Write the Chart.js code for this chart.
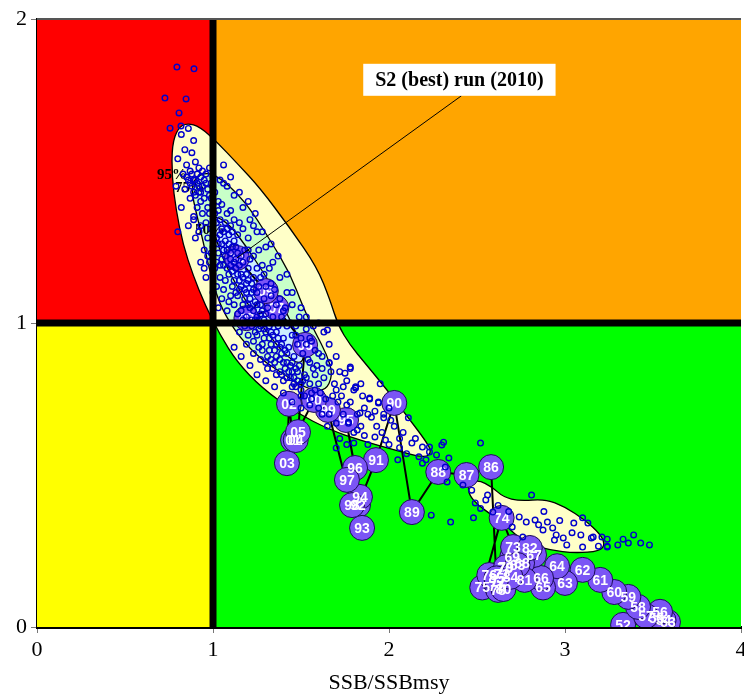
<!DOCTYPE html>
<html>
<head>
<meta charset="utf-8">
<script src="https://cdn.jsdelivr.net/npm/chart.js@4.4.1/dist/chart.umd.min.js"></script>
<style>
  html, body { margin: 0; padding: 0; background: #fff; }
  #wrap { width: 744px; height: 696px; }
</style>
</head>
<body>
<div id="wrap"><canvas id="kobe" width="744" height="696"></canvas></div>
<script>
// Kobe plot: SSB/SSBmsy (x) against F/Fmsy (y), one point per year of the S2 run

var years = ['52','53','54','55','56','57','58','59','60','61','62','63','64','65','66','67','68','69',
  '70','71','72','73','74','75','76','77','78','79','80','81','82','83','84','85','86','87','88','89',
  '90','91','92','93','94','95','96','97','98','99','00','01','02','03','04','05','06','07','08','09','10'];
var ssbRatio = [3.33, 3.585, 3.56, 3.52, 3.54, 3.46, 3.415, 3.36, 3.28, 3.20, 3.10, 3.00, 2.955, 2.875, 2.864, 2.824, 2.756, 2.70,
  2.66, 2.64, 2.62, 2.705, 2.64, 2.53, 2.57, 2.61, 2.62, 2.665, 2.65, 2.77, 2.80, 2.73, 2.69, 2.61, 2.58, 2.44, 2.28, 2.13,
  2.03, 1.926, 1.824, 1.847, 1.835, 1.756, 1.807, 1.761, 1.79, 1.653, 1.574, 1.455, 1.432, 1.42, 1.47, 1.483, 1.523, 1.36, 1.19, 1.30, 1.136];
var fRatio = [0.007, 0.016, 0.022, 0.03, 0.05, 0.036, 0.066, 0.099, 0.115, 0.155, 0.188, 0.145, 0.20, 0.13, 0.161, 0.237, 0.21, 0.23,
  0.194, 0.175, 0.15, 0.263, 0.359, 0.13, 0.171, 0.135, 0.122, 0.197, 0.125, 0.155, 0.26, 0.204, 0.165, 0.16, 0.526, 0.50, 0.51, 0.378,
  0.737, 0.549, 0.401, 0.326, 0.428, 0.681, 0.523, 0.484, 0.401, 0.714, 0.747, 0.615, 0.734, 0.539, 0.615, 0.641, 0.928, 1.05, 1.016, 1.105, 1.214];

// bootstrap estimates for the final year [SSB/SSBmsy, F/Fmsy]
var bootstrap = [
  [0.795,1.842],[0.892,1.836],[0.727,1.740],[0.847,1.737],[0.807,1.691],[0.756,1.641],[0.818,1.648],
  [0.82,1.62],[0.86,1.64],[0.89,1.60],[0.84,1.57],[0.88,1.56],[0.80,1.54],[0.85,1.52],[0.90,1.53],[0.87,1.50],
  [0.83,1.49],[0.91,1.49],[0.86,1.47],[0.89,1.47],[0.93,1.48],[0.88,1.45],[0.91,1.46],[0.94,1.45],[0.89,1.43],
  [0.92,1.43],[0.96,1.49],[0.98,1.51],[0.84,1.44],[0.87,1.41],[0.91,1.38],[0.89,1.35],[0.86,1.32],[0.93,1.32],
  [0.90,1.28],[0.93,1.20],[0.96,1.15],[1.00,1.10],[1.03,1.05],[0.82,1.38],[0.79,1.45],
  [0.92,1.45],[0.95,1.47],[0.90,1.42],[0.97,1.44],[0.93,1.40],[0.99,1.41],[0.94,1.36],[0.96,1.33],[0.92,1.30],
  [0.97,1.28],[0.95,1.24],[0.98,1.20],[1.00,1.16],[1.02,1.12],[1.05,1.08],[1.08,1.04],[1.12,1.00],[1.15,0.97],
  [1.19,0.93],[1.23,0.90],[1.27,0.88],[1.31,0.85],[1.36,0.83],[1.40,0.81],[1.45,0.79],[1.50,0.76],[1.56,0.77],
  [1.60,0.80],[1.62,0.85],[1.60,0.90],[1.56,0.94],[1.53,0.98],[1.49,1.02],[1.45,1.06],[1.42,1.10],[1.38,1.15],
  [1.34,1.20],[1.30,1.25],[1.25,1.30],[1.21,1.34],[1.17,1.38],[1.12,1.42],[1.08,1.45],[1.04,1.47],[1.00,1.48],
  [1.10,1.37],[1.15,1.33],[1.20,1.28],[1.28,1.19],[1.33,1.13],[1.40,1.04],[1.47,0.96],[1.55,0.87],[1.58,0.83],
  [1.01,1.36],[1.04,1.34],[0.99,1.31],[1.06,1.30],[1.02,1.28],[1.09,1.29],[1.05,1.26],[1.12,1.27],[1.08,1.24],
  [1.03,1.23],[1.14,1.23],[1.10,1.21],[1.06,1.19],[1.17,1.20],[1.13,1.18],[1.09,1.16],[1.19,1.16],[1.15,1.14],
  [1.11,1.12],[1.22,1.13],[1.18,1.11],[1.14,1.09],[1.25,1.10],[1.21,1.08],[1.17,1.06],[1.27,1.06],[1.23,1.04],
  [1.19,1.02],[1.30,1.03],[1.26,1.01],[1.22,0.99],[1.33,1.00],[1.29,0.98],[1.25,0.96],[1.36,0.97],[1.32,0.95],
  [1.28,0.93],[1.39,0.93],[1.35,0.91],[1.31,0.89],[1.42,0.90],[1.38,0.88],[1.45,0.87],[1.41,0.85],[1.48,0.84],
  [1.44,0.82],[1.51,0.81],[1.47,0.79],
  [1.03,1.37],[1.00,1.33],[1.07,1.33],[1.04,1.29],[1.11,1.30],[1.07,1.27],[1.00,1.25],[1.13,1.25],[1.10,1.23],
  [1.05,1.21],[1.16,1.22],[1.12,1.20],[1.08,1.18],[1.20,1.18],[1.16,1.16],[1.12,1.14],[1.23,1.15],[1.19,1.13],
  [1.15,1.11],[1.26,1.12],[1.22,1.10],[1.18,1.08],[1.29,1.08],[1.25,1.06],[1.21,1.05],[1.31,1.05],[1.27,1.03],
  [1.24,1.01],[1.34,1.02],[1.30,1.00],[1.26,0.98],[1.37,0.99],[1.33,0.97],[1.29,0.95],[1.40,0.95],[1.36,0.93],
  [1.32,0.91],[1.43,0.92],[1.39,0.90],[1.35,0.87],[1.46,0.89],[1.42,0.87],[1.49,0.86],[1.45,0.84],[1.52,0.83],
  [1.48,0.81],[1.55,0.80],[1.50,0.78],
  [1.02,1.33],[1.05,1.31],[1.08,1.31],[1.03,1.26],[1.06,1.24],[1.09,1.26],[1.11,1.25],[1.07,1.22],[1.04,1.19],
  [1.10,1.19],[1.13,1.21],[1.15,1.19],[1.11,1.17],[1.07,1.14],[1.14,1.16],[1.17,1.15],[1.20,1.14],[1.16,1.12],
  [1.13,1.10],[1.10,1.09],[1.19,1.10],[1.23,1.11],[1.20,1.06],[1.16,1.04],[1.24,1.07],[1.28,1.04],[1.25,1.02],
  [1.22,1.01],[1.18,0.99],[1.29,1.01],[1.32,0.99],[1.27,0.99],[1.24,0.97],[1.30,0.97],[1.34,0.96],[1.37,0.95],
  [1.33,0.93],[1.28,0.91],[1.38,0.92],[1.41,0.91],[1.36,0.89],[1.33,0.88],[1.40,0.87],[1.44,0.86],[1.47,0.85],
  [1.43,0.84],[1.39,0.83],[1.46,0.82],[1.50,0.80],[1.53,0.82],[1.18,1.24],[1.21,1.21],[1.25,1.18],[1.27,1.15],
  [1.30,1.12],[1.33,1.09],[1.36,1.06],[1.39,1.02],[1.42,0.99],[1.45,0.96],[1.48,0.93],[1.51,0.90],[1.54,0.88],
  [1.57,0.85],[1.14,1.29],[1.17,1.31],[1.20,1.24],[1.23,1.22],[1.26,1.24],[1.29,1.16],[1.32,1.18],[1.35,1.11],
  [1.38,1.08],[1.41,1.05],[1.44,1.00],[1.47,0.99],[1.50,0.95],[1.53,0.93],[0.98,1.36],[1.00,1.39],[0.97,1.38],
  [0.95,1.41],[0.93,1.43],[0.96,1.46],[0.90,1.47],[0.87,1.46],[0.85,1.48],[0.88,1.49],[0.92,1.51],[0.94,1.50],
  [0.99,1.46],[1.01,1.43],[0.98,1.42],[1.03,1.40],[1.05,1.39],[1.08,1.36],[1.12,1.34],[1.10,1.32],[1.02,1.20],
  [0.99,1.23],[1.01,1.18],[1.04,1.15],[1.06,1.11],[1.09,1.07],[1.12,1.06],[1.14,1.03],[1.17,1.01],[1.20,0.96],
  [1.23,0.94],[1.26,0.92],[1.30,0.87],[1.34,0.85],[1.38,0.84],[1.42,0.82],[1.46,0.80],[1.52,0.76],[1.56,0.75],
  [1.58,0.78],[1.61,0.77],[1.63,0.82],[1.59,0.86],[1.62,0.89],[1.58,0.91],[1.55,0.95],
  [1.06,1.52],[1.10,1.48],[1.06,1.46],[1.15,1.43],[1.20,1.40],[1.24,1.36],[1.23,1.32],[1.28,1.30],[1.33,1.26],
  [1.37,1.22],[1.42,1.16],[1.45,1.10],[1.50,1.05],[1.53,1.02],[1.57,0.99],[1.60,1.00],[1.63,0.97],[1.66,0.93],
  [1.70,0.89],[1.66,0.87],[1.72,0.84],[1.76,0.81],[1.80,0.78],[1.85,0.76],[1.89,0.75],[1.94,0.74],[1.97,0.70],
  [1.78,0.85],[1.81,0.79],[1.74,0.79],[1.69,0.80],
  [1.12,0.92],[1.16,0.89],[1.21,0.86],[1.25,0.83],[1.30,0.81],[1.35,0.79],[1.40,0.77],[1.45,0.74],[1.50,0.72],
  [1.55,0.73],[1.60,0.72],[1.64,0.75],[1.68,0.76],[1.71,0.74],[1.66,0.70],[1.70,0.67],[1.74,0.70],[1.78,0.74],
  [1.82,0.70],[1.86,0.72],[1.90,0.69],[1.84,0.66],[1.80,0.64],[1.77,0.67],
  [1.62,0.70],[1.65,0.66],[1.72,0.62],[1.76,0.60],[1.86,0.63],[1.88,0.60],[1.93,0.66],[1.96,0.64],[2.01,0.68],
  [2.06,0.59],[2.10,0.57],[2.15,0.62],[2.17,0.56],[2.21,0.55],[1.67,0.84],[1.70,0.78],[1.73,0.76],[1.76,0.73],
  [1.88,0.70],[1.84,0.80],[1.92,0.71],[2.00,0.72],
  [1.78,0.855],[1.75,0.835],[1.81,0.786],[1.89,0.753],[1.94,0.737],[1.835,0.704],[1.97,0.688],[1.82,0.648],
  [1.92,0.625],[1.98,0.615],[2.06,0.62],[2.13,0.605],[2.19,0.592],[2.23,0.576],[2.31,0.608],[2.34,0.556],
  [2.11,0.688],[2.19,0.539],[2.27,0.566],[1.80,0.605],[1.70,0.589],[1.77,0.674],[2.03,0.66],[2.08,0.64],[2.00,0.60],
  [2.23,0.592],[2.32,0.526],[2.33,0.477],[2.24,0.368],[2.35,0.345],[2.42,0.467],[2.49,0.408],[2.55,0.418],
  [2.56,0.434],[2.59,0.378],[2.48,0.359],[2.81,0.434],[2.74,0.362],[2.78,0.345],[2.83,0.352],[2.90,0.345],
  [2.85,0.336],[2.875,0.319],[2.93,0.326],[2.94,0.286],[2.99,0.293],[3.05,0.342],[3.10,0.359],[3.09,0.303],
  [3.13,0.342],[3.16,0.296],[3.21,0.296],[3.24,0.263],[3.01,0.270],[3.10,0.263],[2.95,0.303],[2.70,0.329],
  [2.76,0.296],[2.52,0.605],[2.30,0.599],[3.15,0.293],[3.24,0.289],[3.33,0.289],[3.39,0.303],[3.36,0.276],
  [3.30,0.270],[3.43,0.276],[3.48,0.270],[3.24,0.266],[3.19,0.266],[2.47,0.45],[2.52,0.39],[2.62,0.40],
  [2.68,0.38],[2.88,0.38],[2.97,0.35],[3.04,0.31],
  [0.95,1.18],[0.97,1.22],[0.89,1.34],[1.65,0.977],[1.66,0.868],[0.80,1.30],[1.95,0.80],[2.05,0.55]
];

// confidence contours of the bootstrap cloud
var contour95 = [[0.852,1.658],[0.926,1.645],[1.023,1.595],[1.136,1.526],[1.267,1.444],[1.4375,1.3125],
  [1.591,1.184],[1.665,1.076],[1.71,0.993],[1.778,0.928],[1.864,0.868],[1.989,0.780],[2.119,0.681],
  [2.205,0.615],[2.244,0.576],[2.205,0.556],[2.034,0.582],[1.835,0.615],[1.665,0.648],[1.466,0.707],
  [1.278,0.786],[1.136,0.872],[1.040,0.961],[0.955,1.059],[0.886,1.158],[0.830,1.257],[0.790,1.372],
  [0.767,1.480],[0.767,1.586],[0.801,1.641]];
var contour95tail = [[2.449,0.470],[2.506,0.484],[2.585,0.461],[2.648,0.428],[2.744,0.414],[2.886,0.421],
  [3.0,0.395],[3.114,0.352],[3.199,0.306],[3.227,0.273],[3.199,0.25],[3.057,0.243],[2.915,0.253],
  [2.773,0.276],[2.659,0.336],[2.585,0.368],[2.506,0.401],[2.455,0.434]];
var contour75 = [[0.886,1.470],[0.955,1.497],[1.040,1.477],[1.136,1.428],[1.227,1.362],[1.324,1.273],
  [1.4375,1.164],[1.511,1.053],[1.580,0.970],[1.648,0.895],[1.682,0.829],[1.636,0.773],[1.523,0.786],
  [1.409,0.829],[1.278,0.878],[1.153,0.951],[1.051,1.043],[0.994,1.141],[0.955,1.240],[0.915,1.339],[0.881,1.421]];
var contour50 = [[1.011,1.355],[1.097,1.322],[1.182,1.257],[1.278,1.174],[1.381,1.076],[1.466,0.977],
  [1.523,0.895],[1.494,0.862],[1.409,0.895],[1.295,0.977],[1.182,1.076],[1.085,1.174],[1.028,1.257],[0.994,1.322]];
var contourNames = ['95%', '75%', '50%'];
var contourNamePos = [[0.767,1.487], [0.87,1.444], [0.983,1.306]];

var noteText = 'S2 (best) run (2010)';
var notePos = [2.4, 1.8];

var serif = "'Liberation Serif', 'Times New Roman', serif";

function smoothPath(c, xs, ys, pts) {
  var n = pts.length;
  var P = pts.map(function (p) { return [xs.getPixelForValue(p[0]), ys.getPixelForValue(p[1])]; });
  function mid(a, b) { return [(a[0] + b[0]) / 2, (a[1] + b[1]) / 2]; }
  var m0 = mid(P[0], P[1]);
  c.beginPath();
  c.moveTo(m0[0], m0[1]);
  for (var i = 1; i <= n; i++) {
    var p = P[i % n], m = mid(P[i % n], P[(i + 1) % n]);
    c.quadraticCurveTo(p[0], p[1], m[0], m[1]);
  }
  c.closePath();
}

var kobePlugin = {
  id: 'kobe',
  beforeDatasetsDraw: function (chart) {
    var c = chart.ctx, xs = chart.scales.x, ys = chart.scales.y, a = chart.chartArea;
    var x1 = xs.getPixelForValue(1), y1 = ys.getPixelForValue(1);
    c.save();
    c.fillStyle = '#ff0000'; c.fillRect(a.left, a.top, x1 - a.left, y1 - a.top);
    c.fillStyle = '#ffa500'; c.fillRect(x1, a.top, a.right - x1, y1 - a.top);
    c.fillStyle = '#ffff00'; c.fillRect(a.left, y1, x1 - a.left, a.bottom - y1);
    c.fillStyle = '#00ff00'; c.fillRect(x1, y1, a.right - x1, a.bottom - y1);

    [[contour95, '#ffffc8'], [contour95tail, '#ffffc8'], [contour75, '#c8ffc8'], [contour50, '#cceeff']].forEach(function (k) {
      smoothPath(c, xs, ys, k[0]);
      c.fillStyle = k[1];
      c.fill();
      c.lineWidth = 1.3;
      c.strokeStyle = '#000';
      c.stroke();
    });

    c.fillStyle = '#000';
    c.font = 'bold 15px ' + serif;
    c.textAlign = 'center';
    c.textBaseline = 'middle';
    contourNames.forEach(function (t, i) {
      c.fillText(t, xs.getPixelForValue(contourNamePos[i][0]), ys.getPixelForValue(contourNamePos[i][1]));
    });
    c.restore();
  },
  afterDatasetDraw: function (chart, args) {
    if (args.index !== 1) return;
    // year labels on the trajectory circles (drawn before the bootstrap cloud covers them)
    var c = chart.ctx, a = chart.chartArea;
    c.save();
    c.beginPath();
    c.rect(a.left, a.top, a.right - a.left, a.bottom - a.top);
    c.clip();
    c.font = 'bold 14px "Liberation Sans", Arial, sans-serif';
    c.textAlign = 'center';
    c.textBaseline = 'middle';
    c.fillStyle = '#fff';
    args.meta.data.forEach(function (pt, i) {
      c.fillText(years[i], pt.x, pt.y + 1);
    });
    c.restore();
  },
  afterDatasetsDraw: function (chart) {
    var c = chart.ctx, xs = chart.scales.x, ys = chart.scales.y, a = chart.chartArea;
    var x1 = xs.getPixelForValue(1), y1 = ys.getPixelForValue(1);
    c.save();
    // reference lines at SSBmsy and Fmsy
    c.fillStyle = '#000';
    c.fillRect(x1 - 3.5, a.top, 7, a.bottom - a.top);
    c.fillRect(a.left, y1 - 3.5, a.right - a.left, 7);

    // annotation box and leader line to the final year
    var meta = chart.getDatasetMeta(1);
    var bx = xs.getPixelForValue(notePos[0]), by = ys.getPixelForValue(notePos[1]);
    var last = meta.data[meta.data.length - 1];
    c.font = 'bold 20px ' + serif;
    c.textAlign = 'center';
    c.textBaseline = 'middle';
    var w = c.measureText(noteText).width + 24, h = 32;
    c.strokeStyle = '#000';
    c.lineWidth = 1;
    c.beginPath();
    c.moveTo(bx + 2, by + h / 2);
    c.lineTo(last.x, last.y);
    c.stroke();
    c.fillStyle = '#fff';
    c.fillRect(bx - w / 2, by - h / 2, w, h);
    c.fillStyle = '#000';
    c.fillText(noteText, bx, by + 1);

    // plot frame
    c.strokeStyle = '#555';
    c.lineWidth = 2;
    c.beginPath();
    c.moveTo(a.left, a.top); c.lineTo(a.right, a.top);
    c.stroke();
    c.restore();
  }
};

new Chart(document.getElementById('kobe'), {
  type: 'scatter',
  data: {
    datasets: [{
      label: 'bootstrap',
      data: bootstrap.map(function (p) { return { x: p[0], y: p[1] }; }),
      pointRadius: 2.8,
      pointBorderWidth: 1.4,
      pointBorderColor: '#0000cc',
      pointBackgroundColor: 'rgba(0,0,0,0)',
      order: 1
    }, {
      label: 'trajectory',
      data: ssbRatio.map(function (v, i) { return { x: v, y: fRatio[i] }; }),
      showLine: true,
      borderColor: '#000',
      borderWidth: 2,
      pointRadius: 12.5,
      pointBorderWidth: 1,
      pointBorderColor: '#1a0c55',
      pointBackgroundColor: '#7b55f5',
      order: 2
    }]
  },
  options: {
    responsive: false,
    animation: false,
    layout: { autoPadding: false, padding: { top: 19, right: 3, left: 0, bottom: 0 } },
    plugins: { legend: { display: false }, tooltip: { enabled: false } },
    scales: {
      x: {
        type: 'linear',
        min: 0, max: 4,
        ticks: { stepSize: 1, color: '#000', padding: 4, font: { family: serif, size: 22 } },
        grid: { drawOnChartArea: false, drawTicks: true, tickLength: 6, color: '#777' },
        border: { display: true, color: '#000', width: 3 },
        title: { display: true, text: 'SSB/SSBmsy', color: '#000', padding: { top: 0, bottom: 0 }, font: { family: serif, size: 22 } },
        afterFit: function (s) { s.height = 69; s.paddingLeft = 0; s.paddingRight = 0; }
      },
      y: {
        type: 'linear',
        min: 0, max: 2,
        ticks: { stepSize: 1, color: '#000', padding: 4, font: { family: serif, size: 22 } },
        grid: { drawOnChartArea: false, drawTicks: true, tickLength: 6, color: '#777' },
        border: { display: true, color: '#000', width: 2 },
        afterFit: function (s) { s.width = 37; s.paddingTop = 0; s.paddingBottom = 0; }
      }
    }
  },
  plugins: [kobePlugin]
});
</script>
</body>
</html>
